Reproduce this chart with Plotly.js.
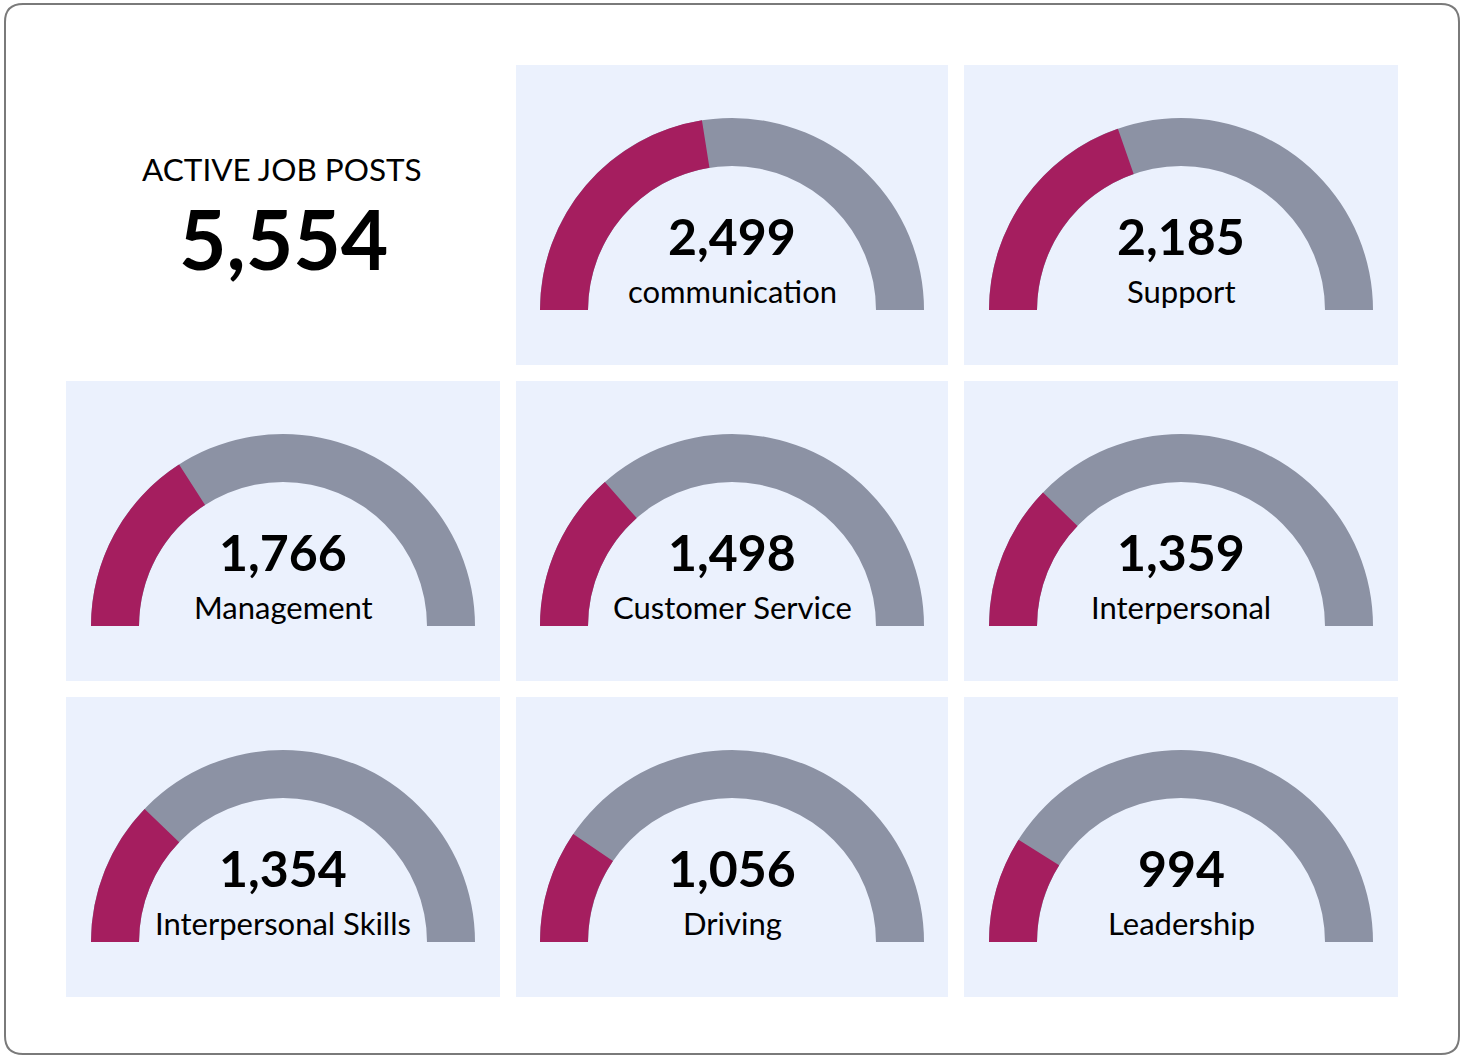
<!DOCTYPE html>
<html>
<head>
<meta charset="utf-8">
<script src="https://cdn.plot.ly/plotly-3.0.1.min.js"></script>
<style>
  html, body { margin: 0; padding: 0; background: #ffffff; }
  #chart { width: 1466px; height: 1055px; }
</style>
</head>
<body>
<div id="chart"></div>
<script>
// ---- data ----
const headlineLabel = 'ACTIVE JOB POSTS';
const totalPosts = 5554;
const skills = ['communication', 'Support', 'Management', 'Customer Service',
                'Interpersonal', 'Interpersonal Skills', 'Driving', 'Leadership'];
const skillCounts = [2499, 2185, 1766, 1498, 1359, 1354, 1056, 994];

// ---- styling / layout ----
const W = 1466, H = 1055;
const colLeft = [66, 516, 964];
const colWidth = [434, 432, 434];
const rowTop = [65, 381, 697];
const rowHeight = 300;
const gaugeTopOffset = 53;
const gaugeRadius = 192;
const cellBg = '#EBF1FD';
const fillColor = '#A51E5F';
const restColor = '#8C92A4';
const fontFamily = 'Lato, "Open Sans", sans-serif';

const px = x => x / W;
const py = y => 1 - y / H;

const traces = [];
const shapes = [];
const annotations = [];

// card border (rounded rectangle)
(function () {
  const l = 5, t = 4, r = 1459, b = 1054, rad = 18;
  const P = (x, y) => px(x) + ',' + py(y);
  const path = 'M' + P(l + rad, t) + ' L' + P(r - rad, t) + ' Q' + P(r, t) + ' ' + P(r, t + rad) +
    ' L' + P(r, b - rad) + ' Q' + P(r, b) + ' ' + P(r - rad, b) +
    ' L' + P(l + rad, b) + ' Q' + P(l, b) + ' ' + P(l, b - rad) +
    ' L' + P(l, t + rad) + ' Q' + P(l, t) + ' ' + P(l + rad, t) + ' Z';
  shapes.push({type: 'path', xref: 'paper', yref: 'paper', path: path,
    line: {color: '#7a7a7a', width: 2}, fillcolor: 'rgba(0,0,0,0)', layer: 'below'});
})();

// headline cell
annotations.push({xref: 'paper', yref: 'paper', x: px(282), y: py(169),
  xanchor: 'center', yanchor: 'middle', showarrow: false, text: headlineLabel,
  font: {family: fontFamily, size: 31.5, color: '#000'}});
annotations.push({xref: 'paper', yref: 'paper', x: px(283), y: py(238),
  xanchor: 'center', yanchor: 'middle', showarrow: false,
  text: totalPosts.toLocaleString('en-US'),
  font: {family: fontFamily, size: 82, color: '#000', weight: 700}});

skills.forEach((name, i) => {
  const cell = i + 1;
  const r = Math.floor(cell / 3), c = cell % 3;
  const L = colLeft[c], T = rowTop[r], Wc = colWidth[c];
  shapes.push({type: 'rect', xref: 'paper', yref: 'paper', layer: 'below',
    x0: px(L), x1: px(L + Wc), y0: py(T + rowHeight), y1: py(T),
    fillcolor: cellBg, line: {width: 0}});
  const cx = L + Wc / 2;
  const gTop = T + gaugeTopOffset;
  traces.push({
    type: 'indicator', mode: 'gauge', value: skillCounts[i],
    domain: {x: [px(cx - gaugeRadius), px(cx + gaugeRadius)],
             y: [py(gTop + gaugeRadius), py(gTop)]},
    gauge: {
      shape: 'angular',
      axis: {range: [0, totalPosts], visible: false},
      bar: {color: fillColor, thickness: 1, line: {width: 0}},
      bgcolor: restColor, borderwidth: 0
    }
  });
  annotations.push({xref: 'paper', yref: 'paper', x: px(cx), y: py(T + 171),
    xanchor: 'center', yanchor: 'middle', showarrow: false,
    text: skillCounts[i].toLocaleString('en-US'),
    font: {family: fontFamily, size: 50, color: '#000', weight: 700}});
  annotations.push({xref: 'paper', yref: 'paper', x: px(cx), y: py(T + 226),
    xanchor: 'center', yanchor: 'middle', showarrow: false, text: name,
    font: {family: fontFamily, size: 31, color: '#000'}});
});

const layout = {
  width: W, height: H,
  margin: {l: 0, r: 0, t: 0, b: 0},
  paper_bgcolor: '#ffffff',
  showlegend: false,
  shapes: shapes,
  annotations: annotations
};

Plotly.newPlot('chart', traces, layout, {staticPlot: true, displayModeBar: false});
</script>
</body>
</html>
